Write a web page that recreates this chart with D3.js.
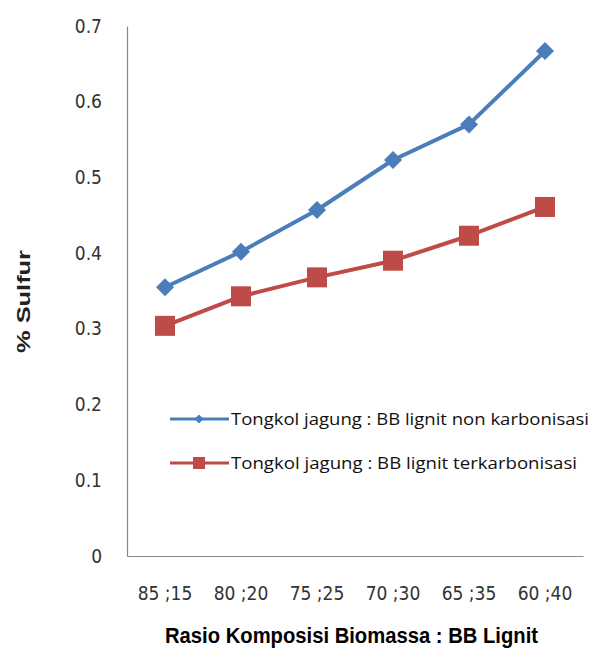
<!DOCTYPE html>
<html>
<head>
<meta charset="utf-8">
<script src="https://cdn.jsdelivr.net/npm/d3@7"></script>
<style>
  html, body { margin: 0; padding: 0; background: #fff; }
  svg { display: block; }
  .tick text { font-family: "DejaVu Sans Condensed", "DejaVu Sans", sans-serif; font-stretch: condensed; font-size: 19px; fill: #333; }
</style>
</head>
<body>
<svg id="chart" width="591" height="650"></svg>
<script>
// Composition ratios (biomass : lignite) on the x axis
const categories = ["85 ; 15", "80 ; 20", "75 ; 25", "70 ; 30", "65 ; 35", "60 ; 40"];
// % sulfur, corn cob + non-carbonised lignite
const nonKarbonisasi = [0.355, 0.402, 0.457, 0.523, 0.570, 0.667];
// % sulfur, corn cob + carbonised lignite
const terkarbonisasi = [0.304, 0.343, 0.368, 0.390, 0.423, 0.461];
const yTicks = [0, 0.1, 0.2, 0.3, 0.4, 0.5, 0.6, 0.7];
const seriesNames = [
  "Tongkol jagung : BB lignit non karbonisasi",
  "Tongkol jagung : BB lignit terkarbonisasi"
];

const svg = d3.select("#chart");
const plotLeft = 127, plotRight = 583, plotTop = 26, plotBottom = 556;

const x = d3.scaleBand().domain(categories).range([plotLeft, plotRight]);
const y = d3.scaleLinear().domain([0, 0.7]).range([plotBottom, plotTop]);

// axes
const yAxis = d3.axisLeft(y).tickValues(yTicks).tickSize(0).tickPadding(25)
  .tickFormat(d => d === 0 ? "0" : d3.format(".1f")(d));
const gy = svg.append("g").attr("transform", `translate(${plotLeft},0)`).call(yAxis);
gy.select(".domain").attr("stroke", "#888").attr("stroke-width", 1.2);

const xAxis = d3.axisBottom(x).tickSize(0).tickPadding(31)
  .tickFormat(d => d.replace(" ; ", " ;"));
const gx = svg.append("g").attr("transform", `translate(0,${plotBottom})`).call(xAxis);
gx.select(".domain").attr("stroke", "#888").attr("stroke-width", 1.2);

const series = [
  { name: seriesNames[0], values: nonKarbonisasi, color: "#4A7EBB", marker: "diamond", width: 358 },
  { name: seriesNames[1], values: terkarbonisasi, color: "#BE4B48", marker: "square", width: 346 }
];

const line = d3.line()
  .x((d, i) => x(categories[i]) + x.bandwidth() / 2)
  .y(d => y(d));

function drawMarker(g, kind, cx, cy, color, scale) {
  if (kind === "diamond") {
    const r = 9 * scale;
    g.append("path")
      .attr("d", `M${cx},${cy - r}L${cx + r},${cy}L${cx},${cy + r}L${cx - r},${cy}Z`)
      .attr("fill", color);
  } else {
    const s = 20 * scale;
    g.append("rect")
      .attr("x", cx - s / 2).attr("y", cy - s / 2)
      .attr("width", s).attr("height", s)
      .attr("fill", color);
  }
}

series.forEach(s => {
  const g = svg.append("g");
  g.append("path").datum(s.values)
    .attr("d", line)
    .attr("fill", "none")
    .attr("stroke", s.color)
    .attr("stroke-width", 4)
    .attr("stroke-linejoin", "round");
  s.values.forEach((v, i) => {
    drawMarker(g, s.marker, x(categories[i]) + x.bandwidth() / 2, y(v), s.color, 1);
  });
});

// legend
const legend = svg.append("g");
series.forEach((s, i) => {
  const ly = 419 + i * 44;
  legend.append("line")
    .attr("x1", 170).attr("x2", 229).attr("y1", ly).attr("y2", ly)
    .attr("stroke", s.color).attr("stroke-width", 3);
  drawMarker(legend, s.marker, 199, ly, s.color, s.marker === "diamond" ? 0.5 : 0.6);
  legend.append("text")
    .attr("x", 231).attr("y", ly + 6)
    .attr("font-family", "'Open Sans', 'Liberation Sans', sans-serif")
    .attr("font-size", 17)
    .attr("textLength", s.width)
    .attr("lengthAdjust", "spacingAndGlyphs")
    .attr("fill", "#111")
    .text(s.name);
});

// axis titles
svg.append("text")
  .attr("x", 165).attr("y", 643)
  .attr("font-family", "'Liberation Sans', Arial, sans-serif")
  .attr("font-weight", "bold")
  .attr("font-size", 22)
  .attr("textLength", 373)
  .attr("lengthAdjust", "spacingAndGlyphs")
  .attr("fill", "#000")
  .text("Rasio Komposisi  Biomassa : BB Lignit");

svg.append("text")
  .attr("transform", "translate(30,353) rotate(-90)")
  .attr("font-family", "'Liberation Sans', Arial, sans-serif")
  .attr("font-weight", "bold")
  .attr("font-size", 18)
  .attr("textLength", 103)
  .attr("lengthAdjust", "spacingAndGlyphs")
  .attr("fill", "#222")
  .text("% Sulfur");
</script>
</body>
</html>
